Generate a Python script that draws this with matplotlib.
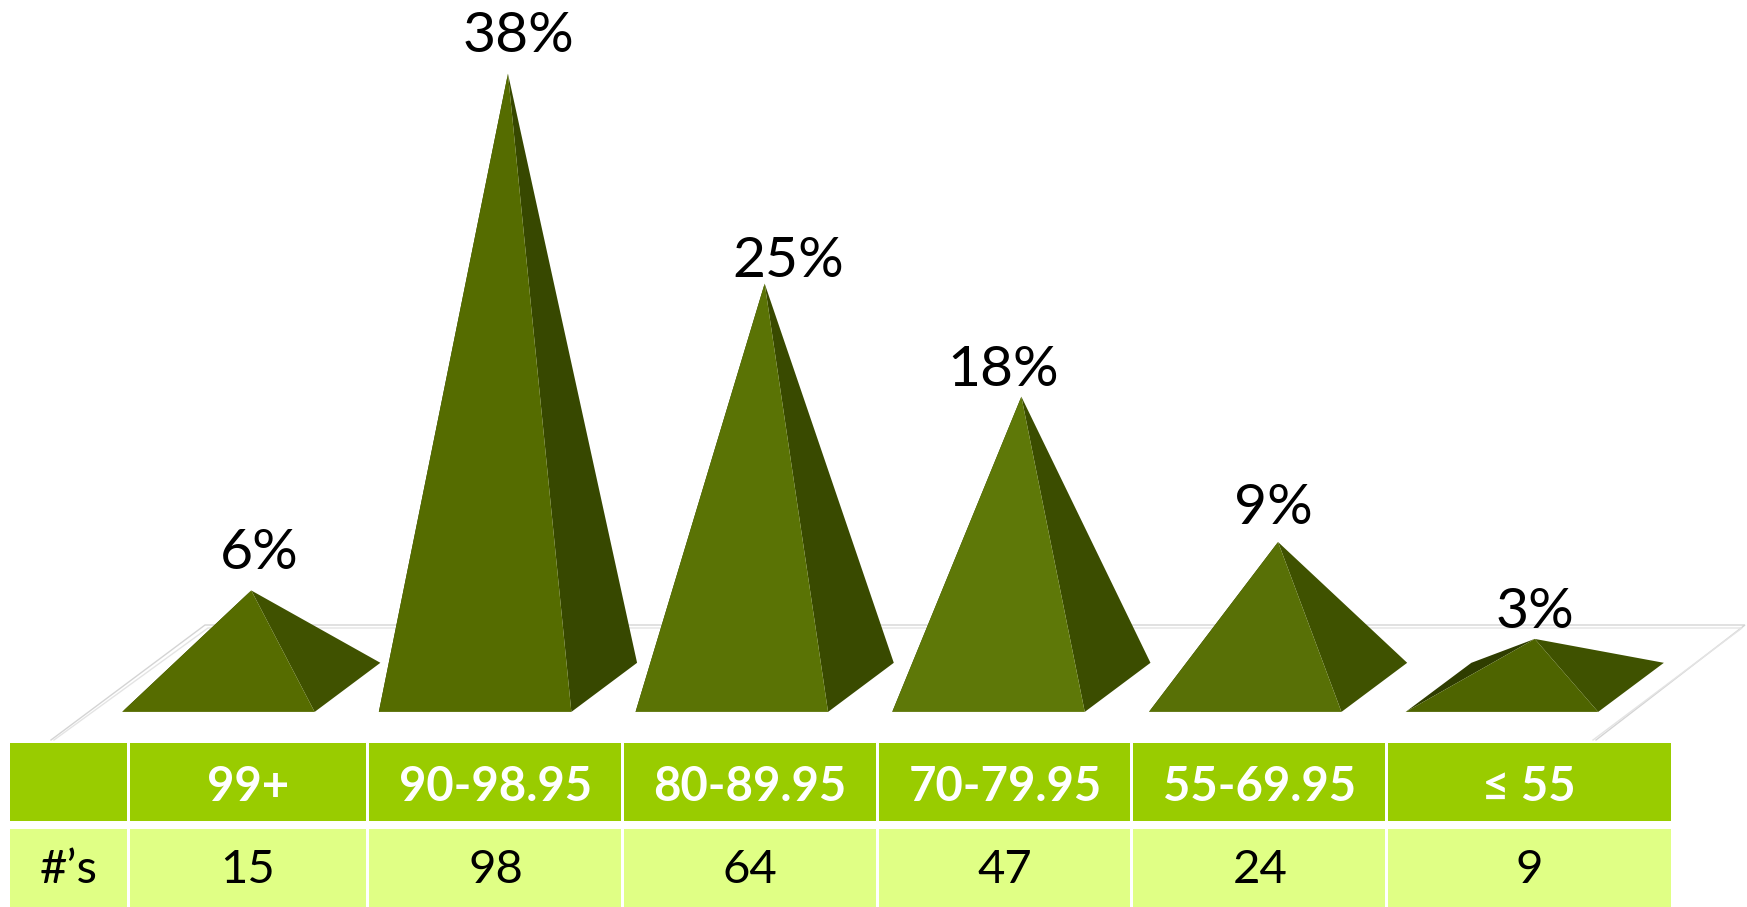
import matplotlib
matplotlib.use("Agg")
import matplotlib.pyplot as plt
from matplotlib.patches import Polygon, Rectangle

# --- data ---
range_labels = ["99+", "90-98.95", "80-89.95", "70-79.95", "55-69.95", "≤ 55"]
percent_values = [6, 38, 25, 18, 9, 3]
count_values = [15, 98, 64, 47, 24, 9]
row_label = "#’s"

# --- style / layout ---
W, H = 1747, 907
plt.rcParams["font.family"] = ["Lato", "DejaVu Sans"]
front_colors = ["#566C00", "#556C00", "#5A7305", "#5E7808", "#587006", "#4E6400"]
side_colors = ["#405200", "#374800", "#394A00", "#3B4D00", "#3F5200", "#3F5200"]
back_color = "#2F3D00"
label_dx = [0.03, 0.04, 0.09, -0.07, -0.02, 0.0]   # category units, from apex
label_dy = [2.3, 2.3, 1.35, 1.62, 2.1, 1.62]       # percent units, from apex
col_edges = [10, 129, 368, 623, 878, 1132, 1387, 1673]
head_cx = [248, 496, 750, 1005, 1260, 1529]
first_cx = 69

half_w, apex_dx, depth_dx, depth_dy = 0.375, 0.128, 0.256, 1.52

fig = plt.figure(figsize=(W / 100, H / 100), dpi=100, facecolor="white")

# pixel layer: floor frame and table
bg = fig.add_axes([0, 0, 1, 1], zorder=1)
bg.set_xlim(0, W)
bg.set_ylim(H, 0)
bg.axis("off")
for off, col in ((0, "#D4D4D4"), (3, "#E4E4E4")):
    bg.plot([51 + off, 205 + off, 1745 - off, 1596 - off],
            [740, 625 + off, 625 + off, 740],
            color=col, lw=1.0, solid_joinstyle="miter")

rows = [(743, 821, "#99CC00"), (829, 907, "#E0FF85")]
for top, bot, col in rows:
    for left, right in zip(col_edges[:-1], col_edges[1:]):
        bg.add_patch(Rectangle((left + 1.5, top), right - left - 3, bot - top,
                               facecolor=col, edgecolor="none"))
bg.add_patch(Rectangle((10, 743), 117, 78, facecolor="#99CC00", edgecolor="none"))
bg.add_patch(Rectangle((10, 829), 117, 78, facecolor="#E0FF85", edgecolor="none"))

for cx, lab, cnt in zip(head_cx, range_labels, count_values):
    bg.text(cx, 787, lab, color="white", fontsize=34, fontweight="bold",
            ha="center", va="center")
    bg.text(cx, 870, str(cnt), color="black", fontsize=34,
            ha="center", va="center")
bg.text(first_cx, 870, row_label, color="black", fontsize=34, ha="center", va="center")

# data layer: category positions on x, percent on y
ax = fig.add_axes([0, 0, 1, 1], zorder=2)
ax.patch.set_alpha(0)
ax.set_xlim(-0.8508, 5.9548)
ax.set_ylim(-13.60, 42.56)
ax.axis("off")

for i, p in enumerate(percent_values):
    apex = (i + apex_dx, p)
    bl = (i - half_w, -depth_dy)
    br = (i + half_w, -depth_dy)
    tr = (i + half_w + depth_dx, depth_dy)
    tl = (i - half_w + depth_dx, depth_dy)
    ax.add_patch(Polygon([bl, tl, apex], closed=True, fc=back_color, ec="none"))
    ax.add_patch(Polygon([br, tr, apex], closed=True, fc=side_colors[i], ec="none"))
    ax.add_patch(Polygon([bl, br, apex], closed=True, fc=front_colors[i], ec="none"))
    ax.text(i + apex_dx + label_dx[i], p + label_dy[i], f"{p}%", color="black",
            fontsize=41, ha="center", va="center")

fig.savefig("out.png", dpi=100, facecolor="white")
